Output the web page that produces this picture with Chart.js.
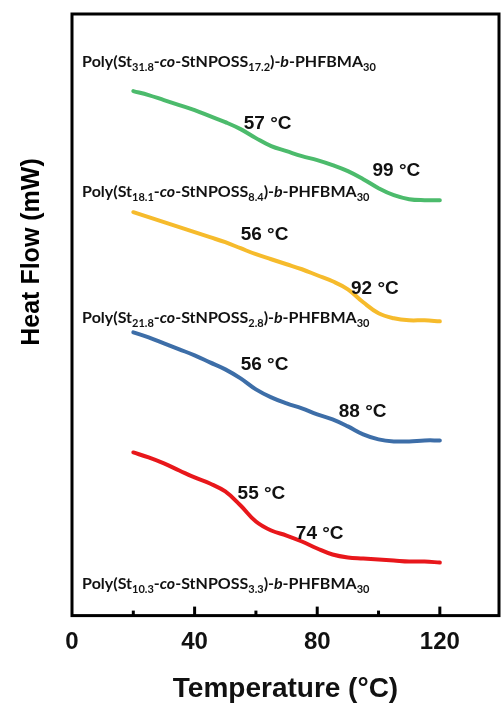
<!DOCTYPE html>
<html>
<head>
<meta charset="utf-8">
<script src="https://cdn.jsdelivr.net/npm/chart.js@4.4.1/dist/chart.umd.min.js"></script>
<style>
  html, body { margin: 0; padding: 0; background: #fff; }
  canvas { display: block; }
</style>
</head>
<body>
<canvas id="dsc" width="501" height="706"></canvas>
<script>
// DSC heating traces, heat flow shifted per sample (arbitrary units)
var temps = [20, 25, 30, 35, 40, 45, 50, 55, 60, 65, 70, 75, 80, 85, 90, 95, 100, 105, 110, 115, 120];

var flowA = [52.4, 52.0, 51.5, 51.0, 50.5, 49.9, 49.3, 48.6, 47.7, 46.9, 46.4, 45.9, 45.5, 45.0, 44.4, 43.6, 42.7, 42.0, 41.6, 41.5, 41.5];
var flowB = [40.3, 39.8, 39.3, 38.8, 38.3, 37.8, 37.3, 36.7, 36.1, 35.6, 35.1, 34.6, 34.0, 33.4, 32.6, 31.3, 30.2, 29.7, 29.5, 29.5, 29.4];
var flowC = [28.3, 27.8, 27.2, 26.6, 26.0, 25.3, 24.6, 23.7, 22.6, 21.8, 21.2, 20.7, 20.1, 19.6, 18.9, 18.1, 17.6, 17.4, 17.4, 17.5, 17.5];
var flowD = [16.3, 15.8, 15.2, 14.5, 13.8, 13.2, 12.4, 11.0, 9.4, 8.5, 8.0, 7.4, 6.7, 6.1, 5.8, 5.7, 5.6, 5.5, 5.4, 5.4, 5.3];

// subscripts of the block copolymer names
var stUnits = ["31.8", "18.1", "21.8", "10.3"];
var possUnits = ["17.2", "8.4", "2.8", "3.3"];

// glass transitions, two per sample
var tgA = [57, 99];
var tgB = [56, 92];
var tgC = [56, 88];
var tgD = [55, 74];

var xTickValues = [0, 20, 40, 60, 80, 100, 120];
var xTickLabels = ["0", "", "40", "", "80", "", "120"];

(function() {
  "use strict";

  var colors = ["#4cbb6c", "#f6bb2c", "#3d6ea8", "#e8171b"];
  var flows = [flowA, flowB, flowC, flowD];
  var tgs = [tgA, tgB, tgC, tgD];

  // where the text goes (x in °C, y in heat flow units)
  var nameAt = [[3.3, 54.8], [3.3, 41.8], [3.3, 29.2], [3.3, 2.7]];
  var tgLabelY = [[49.15, 44.4], [38.0, 32.7], [25.1, 20.4], [12.2, 8.2]];

  var AXIS_FONT = "'Liberation Sans', Arial, sans-serif";
  var NAME_FONT = "Lato, 'Open Sans', sans-serif";

  var polyName = function(i) {
    return [
      ["Poly(St", ""], [stUnits[i], "sub"], ["-", ""], ["co", "it"],
      ["-StNPOSS", ""], [possUnits[i], "sub"], [")-", ""], ["b", "it"],
      ["-PHFBMA", ""], ["30", "sub"]
    ];
  };

  var drawName = function(ctx, segs, x, y) {
    ctx.textAlign = "left";
    ctx.textBaseline = "alphabetic";
    segs.forEach(function(s) {
      var sub = s[1] === "sub";
      ctx.font = (s[1] === "it" ? "italic " : "") + "bold " + (sub ? 11 : 16) + "px " + NAME_FONT;
      ctx.fillText(s[0], x, sub ? y + 4 : y);
      x += ctx.measureText(s[0]).width;
    });
  };

  var points = function(vals) {
    return temps.map(function(t, i) { return { x: t, y: vals[i] }; });
  };

  // frame, inward ticks, y title and text notes
  var decor = {
    id: "decor",
    afterDatasetsDraw: function(chart) {
      var ctx = chart.ctx,
          a = chart.chartArea,
          xs = chart.scales.x,
          ys = chart.scales.y;

      ctx.save();
      ctx.strokeStyle = "#000";
      ctx.lineWidth = 3;
      ctx.strokeRect(a.left, a.top, a.right - a.left, a.bottom - a.top);

      xs.ticks.forEach(function(t) {
        if (t.value <= 0) return;
        var px = xs.getPixelForValue(t.value),
            len = t.label ? 9 : 5;
        ctx.beginPath();
        ctx.moveTo(px, a.bottom);
        ctx.lineTo(px, a.bottom - len);
        ctx.stroke();
      });

      ctx.fillStyle = "#000";
      ctx.translate(32, 252);
      ctx.rotate(-Math.PI / 2);
      ctx.font = "bold 25px " + AXIS_FONT;
      ctx.textAlign = "center";
      ctx.textBaseline = "middle";
      ctx.fillText("Heat Flow (mW)", 0, 0);
      ctx.setTransform(1, 0, 0, 1, 0, 0);

      ctx.fillStyle = "#111";
      for (var i = 0; i < 4; i++) {
        drawName(ctx, polyName(i), xs.getPixelForValue(nameAt[i][0]), ys.getPixelForValue(nameAt[i][1]));

        ctx.font = "bold 19px " + AXIS_FONT;
        ctx.textAlign = "left";
        ctx.textBaseline = "middle";
        for (var k = 0; k < 2; k++) {
          ctx.fillText(tgs[i][k] + " \u00b0C", xs.getPixelForValue(tgs[i][k]) - 3, ys.getPixelForValue(tgLabelY[i][k]));
        }
      }
      ctx.restore();
    }
  };

  var ctx = document.getElementById("dsc").getContext("2d");

  new Chart(ctx, {
    type: "line",
    data: {
      datasets: flows.map(function(f, i) {
        return {
          data: points(f),
          borderColor: colors[i],
          borderWidth: 4,
          borderCapStyle: "round",
          borderJoinStyle: "round",
          pointRadius: 0,
          fill: false,
          tension: 0.4
        };
      })
    },
    options: {
      responsive: false,
      devicePixelRatio: 1,
      animation: false,
      layout: { padding: { left: 72, right: 2, top: 14, bottom: 0 } },
      plugins: { legend: { display: false }, tooltip: { enabled: false } },
      scales: {
        x: {
          type: "linear",
          min: 0,
          max: 139.3,
          grid: { display: false, drawTicks: false },
          border: { display: false },
          afterBuildTicks: function(scale) {
            scale.ticks = xTickValues.map(function(v) { return { value: v }; });
          },
          ticks: {
            autoSkip: false,
            maxRotation: 0,
            padding: 12,
            color: "#111",
            font: { family: AXIS_FONT, size: 24, weight: "bold" },
            callback: function(v) { return xTickLabels[xTickValues.indexOf(v)]; }
          },
          title: {
            display: true,
            text: "Temperature (\u00b0C)",
            color: "#111",
            font: { family: AXIS_FONT, size: 28, weight: "bold" },
            padding: { top: 4, bottom: 0 }
          }
        },
        y: {
          display: false,
          min: 0,
          max: 60.1
        }
      }
    },
    plugins: [decor]
  });
})();
</script>
</body>
</html>
